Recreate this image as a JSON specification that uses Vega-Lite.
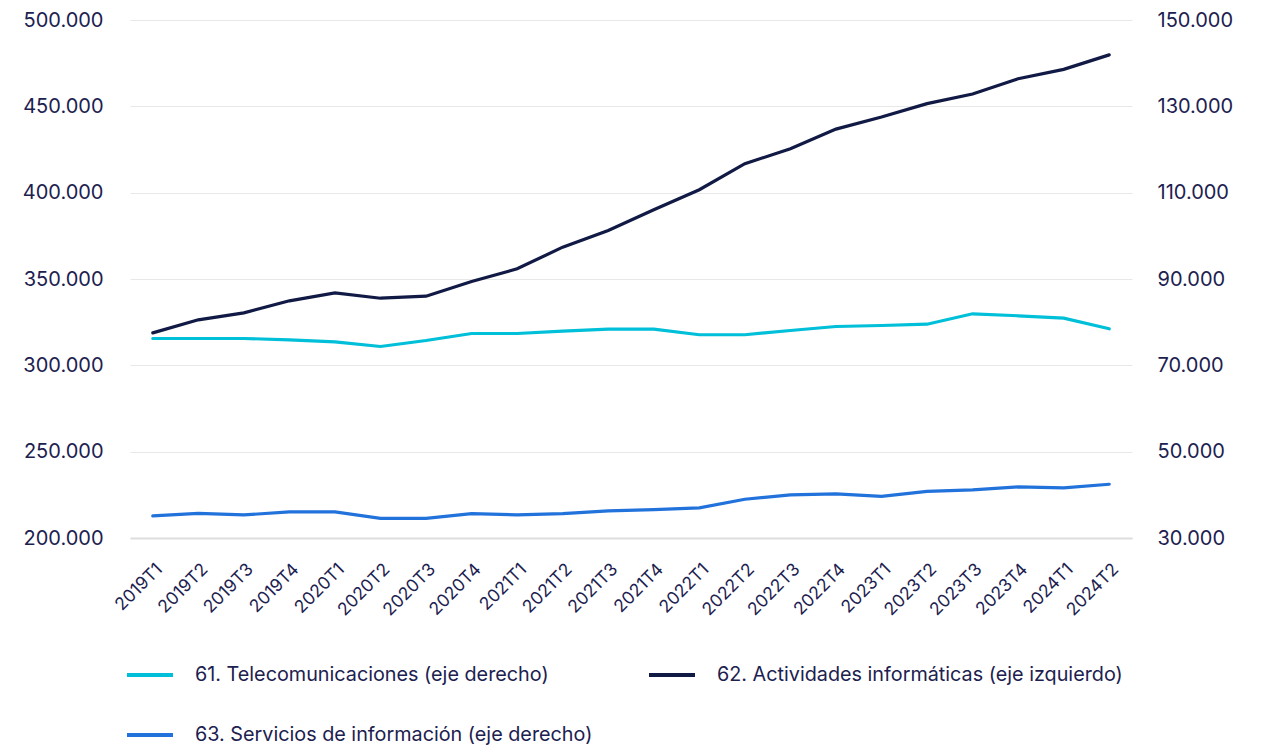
{
  "$schema": "https://vega.github.io/schema/vega-lite/v6.json",
  "width": 1002,
  "height": 518,
  "autosize": {"type": "none"},
  "padding": {"left": 130, "top": 20, "right": 129, "bottom": 207},
  "background": "white",
  "config": {
    "locale": {"number": {"decimal": ",", "thousands": ".", "grouping": [3], "currency": ["", " €"]}},
    "view": {"stroke": null},
    "font": "Inter",
    "axis": {"labelFont": "Inter", "labelColor": "#1c2150", "ticks": false, "domain": false, "title": null},
    "legend": {"labelFont": "Inter", "labelColor": "#1c2150"}
  },
  "data": {"values": [
    {"q": "2019T1", "s": "61. Telecomunicaciones (eje derecho)", "v": 76220},
    {"q": "2019T2", "s": "61. Telecomunicaciones (eje derecho)", "v": 76220},
    {"q": "2019T3", "s": "61. Telecomunicaciones (eje derecho)", "v": 76220},
    {"q": "2019T4", "s": "61. Telecomunicaciones (eje derecho)", "v": 75920},
    {"q": "2020T1", "s": "61. Telecomunicaciones (eje derecho)", "v": 75450},
    {"q": "2020T2", "s": "61. Telecomunicaciones (eje derecho)", "v": 74360},
    {"q": "2020T3", "s": "61. Telecomunicaciones (eje derecho)", "v": 75750},
    {"q": "2020T4", "s": "61. Telecomunicaciones (eje derecho)", "v": 77380},
    {"q": "2021T1", "s": "61. Telecomunicaciones (eje derecho)", "v": 77380},
    {"q": "2021T2", "s": "61. Telecomunicaciones (eje derecho)", "v": 77910},
    {"q": "2021T3", "s": "61. Telecomunicaciones (eje derecho)", "v": 78370},
    {"q": "2021T4", "s": "61. Telecomunicaciones (eje derecho)", "v": 78370},
    {"q": "2022T1", "s": "61. Telecomunicaciones (eje derecho)", "v": 77080},
    {"q": "2022T2", "s": "61. Telecomunicaciones (eje derecho)", "v": 77080},
    {"q": "2022T3", "s": "61. Telecomunicaciones (eje derecho)", "v": 78070},
    {"q": "2022T4", "s": "61. Telecomunicaciones (eje derecho)", "v": 79000},
    {"q": "2023T1", "s": "61. Telecomunicaciones (eje derecho)", "v": 79230},
    {"q": "2023T2", "s": "61. Telecomunicaciones (eje derecho)", "v": 79530},
    {"q": "2023T3", "s": "61. Telecomunicaciones (eje derecho)", "v": 81940},
    {"q": "2023T4", "s": "61. Telecomunicaciones (eje derecho)", "v": 81480},
    {"q": "2024T1", "s": "61. Telecomunicaciones (eje derecho)", "v": 80920},
    {"q": "2024T2", "s": "61. Telecomunicaciones (eje derecho)", "v": 78470},
    {"q": "2019T1", "s": "62. Actividades informáticas (eje izquierdo)", "v": 318800},
    {"q": "2019T2", "s": "62. Actividades informáticas (eje izquierdo)", "v": 326350},
    {"q": "2019T3", "s": "62. Actividades informáticas (eje izquierdo)", "v": 330400},
    {"q": "2019T4", "s": "62. Actividades informáticas (eje izquierdo)", "v": 337360},
    {"q": "2020T1", "s": "62. Actividades informáticas (eje izquierdo)", "v": 342000},
    {"q": "2020T2", "s": "62. Actividades informáticas (eje izquierdo)", "v": 338870},
    {"q": "2020T3", "s": "62. Actividades informáticas (eje izquierdo)", "v": 340030},
    {"q": "2020T4", "s": "62. Actividades informáticas (eje izquierdo)", "v": 348550},
    {"q": "2021T1", "s": "62. Actividades informáticas (eje izquierdo)", "v": 355900},
    {"q": "2021T2", "s": "62. Actividades informáticas (eje izquierdo)", "v": 368430},
    {"q": "2021T3", "s": "62. Actividades informáticas (eje izquierdo)", "v": 378100},
    {"q": "2021T4", "s": "62. Actividades informáticas (eje izquierdo)", "v": 390100},
    {"q": "2022T1", "s": "62. Actividades informáticas (eje izquierdo)", "v": 401700},
    {"q": "2022T2", "s": "62. Actividades informáticas (eje izquierdo)", "v": 416770},
    {"q": "2022T3", "s": "62. Actividades informáticas (eje izquierdo)", "v": 425460},
    {"q": "2022T4", "s": "62. Actividades informáticas (eje izquierdo)", "v": 436820},
    {"q": "2023T1", "s": "62. Actividades informáticas (eje izquierdo)", "v": 443780},
    {"q": "2023T2", "s": "62. Actividades informáticas (eje izquierdo)", "v": 451550},
    {"q": "2023T3", "s": "62. Actividades informáticas (eje izquierdo)", "v": 457100},
    {"q": "2023T4", "s": "62. Actividades informáticas (eje izquierdo)", "v": 466000},
    {"q": "2024T1", "s": "62. Actividades informáticas (eje izquierdo)", "v": 471400},
    {"q": "2024T2", "s": "62. Actividades informáticas (eje izquierdo)", "v": 479800},
    {"q": "2019T1", "s": "63. Servicios de información (eje derecho)", "v": 35120},
    {"q": "2019T2", "s": "63. Servicios de información (eje derecho)", "v": 35720},
    {"q": "2019T3", "s": "63. Servicios de información (eje derecho)", "v": 35350},
    {"q": "2019T4", "s": "63. Servicios de información (eje derecho)", "v": 36050},
    {"q": "2020T1", "s": "63. Servicios de información (eje derecho)", "v": 36050},
    {"q": "2020T2", "s": "63. Servicios de información (eje derecho)", "v": 34560},
    {"q": "2020T3", "s": "63. Servicios de información (eje derecho)", "v": 34560},
    {"q": "2020T4", "s": "63. Servicios de información (eje derecho)", "v": 35650},
    {"q": "2021T1", "s": "63. Servicios de información (eje derecho)", "v": 35350},
    {"q": "2021T2", "s": "63. Servicios de información (eje derecho)", "v": 35650},
    {"q": "2021T3", "s": "63. Servicios de información (eje derecho)", "v": 36280},
    {"q": "2021T4", "s": "63. Servicios de información (eje derecho)", "v": 36580},
    {"q": "2022T1", "s": "63. Servicios de información (eje derecho)", "v": 36970},
    {"q": "2022T2", "s": "63. Servicios de información (eje derecho)", "v": 38970},
    {"q": "2022T3", "s": "63. Servicios de información (eje derecho)", "v": 39990},
    {"q": "2022T4", "s": "63. Servicios de información (eje derecho)", "v": 40220},
    {"q": "2023T1", "s": "63. Servicios de información (eje derecho)", "v": 39660},
    {"q": "2023T2", "s": "63. Servicios de información (eje derecho)", "v": 40820},
    {"q": "2023T3", "s": "63. Servicios de información (eje derecho)", "v": 41150},
    {"q": "2023T4", "s": "63. Servicios de información (eje derecho)", "v": 41840},
    {"q": "2024T1", "s": "63. Servicios de información (eje derecho)", "v": 41610},
    {"q": "2024T2", "s": "63. Servicios de información (eje derecho)", "v": 42450}
  ]},
  "encoding": {
    "x": {
      "field": "q", "type": "ordinal",
      "scale": {"type": "point", "padding": 0.5},
      "axis": {"labelAngle": -45, "labelFontSize": 17.5, "labelPadding": 22, "domain": true, "domainColor": "#dddddd", "domainWidth": 2, "grid": false}
    },
    "color": {
      "field": "s", "type": "nominal",
      "scale": {
        "domain": ["61. Telecomunicaciones (eje derecho)", "62. Actividades informáticas (eje izquierdo)", "63. Servicios de información (eje derecho)"],
        "range": ["#00bfd8", "#111a45", "#2272db"]
      },
      "legend": {
        "title": null, "orient": "none", "legendX": -5, "legendY": 630, "columns": 2, "direction": "horizontal",
        "symbolType": "stroke", "symbolSize": 2116, "symbolStrokeWidth": 4,
        "labelFontSize": 19.8, "labelOffset": 20, "labelLimit": 600,
        "columnPadding": 48, "rowPadding": 25
      }
    }
  },
  "layer": [
    {
      "transform": [{"filter": {"field": "s", "equal": "62. Actividades informáticas (eje izquierdo)"}}],
      "mark": {"type": "line", "strokeWidth": 3.2, "strokeCap": "round"},
      "encoding": {
        "y": {
          "field": "v", "type": "quantitative",
          "scale": {"domain": [200000, 500000], "nice": false, "zero": false},
          "axis": {"values": [200000, 250000, 300000, 350000, 400000, 450000, 500000], "format": ",.0f", "labelFontSize": 20, "labelPadding": 27, "grid": true, "gridColor": "#e8e8e8", "gridWidth": 1}
        }
      }
    },
    {
      "transform": [{"filter": {"not": {"field": "s", "equal": "62. Actividades informáticas (eje izquierdo)"}}}],
      "mark": {"type": "line", "strokeWidth": 3.2, "strokeCap": "round"},
      "encoding": {
        "y": {
          "field": "v", "type": "quantitative",
          "scale": {"domain": [30000, 150000], "nice": false, "zero": false},
          "axis": {"orient": "right", "values": [30000, 50000, 70000, 90000, 110000, 130000, 150000], "format": ",.0f", "labelFontSize": 20, "labelPadding": 25, "grid": false}
        }
      }
    }
  ],
  "resolve": {"scale": {"y": "independent"}}
}
